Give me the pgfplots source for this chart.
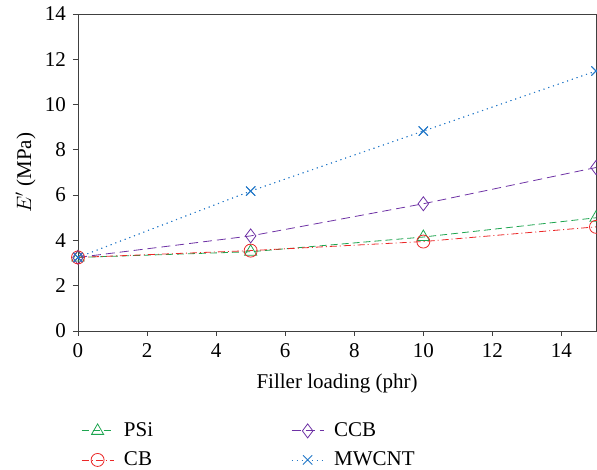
\documentclass[border=0pt]{standalone}
\usepackage{fontspec}
\setmainfont{Liberation Serif}
\usepackage{pgfplots}
\pgfplotsset{compat=1.18}

\definecolor{cpsi}{RGB}{30,165,80}
\definecolor{ccb}{RGB}{235,40,40}
\definecolor{cccb}{RGB}{110,50,165}
\definecolor{cmw}{RGB}{35,120,200}

\begin{document}
\fontsize{21}{25}\selectfont
\begin{tikzpicture}
\path[use as bounding box] (-78pt,-139pt) rectangle (519pt,331pt);
\begin{axis}[
    at={(0,0)}, anchor=south west,
    scale only axis,
    width=518pt, height=317pt,
    xmin=0, xmax=15, ymin=0, ymax=14,
    xtick={0,2,...,14}, ytick={0,2,...,14},
    tick align=outside, tick pos=left,
    major tick length=5pt,
    axis line style={black!75, line width=0.9pt},
    tick style={black!75, line width=0.8pt},
    /pgf/number format/assume math mode=true,
    ticklabel style={font=\fontsize{21}{25}\selectfont},
    xlabel={Filler loading (phr)},
    ylabel={$E'$ (MPa)},
    label style={font=\fontsize{21}{25}\selectfont},
    xlabel style={yshift=-2pt},
    ylabel style={yshift=-5pt},
    clip=false,
    legend columns=2,
    legend style={draw=none, at={(0,-0.275)}, anchor=north west,
        font=\fontsize{21}{25}\selectfont,
        /tikz/every even column/.append style={column sep=136pt},
        /tikz/every odd column/.append style={column sep=8pt},
        row sep=8pt},
    legend cell align=left,
    legend image code/.code={
        \draw[mark repeat=2,mark phase=2,#1] plot coordinates {(0pt,0pt) (16pt,0pt) (32pt,0pt)};},
]
\addplot[cpsi, line width=0.8pt, dash pattern=on 7pt off 4pt, mark=triangle, mark size=7pt, mark options={solid}]
    coordinates {(0,3.25) (5,3.5) (10,4.15) (15,5.0)};
\addlegendentry{PSi}
\addplot[cmw, line width=0.9pt, dash pattern=on 1pt off 4pt, mark=x, mark size=6.5pt, mark options={solid}, forget plot]
    coordinates {(0,3.25) (5,6.18) (10,8.83) (15,11.48)};
\addplot[cccb, line width=0.8pt, dash pattern=on 9pt off 5pt, mark=diamond, mark size=7pt, mark options={solid}]
    coordinates {(0,3.25) (5,4.2) (10,5.62) (15,7.22)};
\addlegendentry{CCB}
\addplot[ccb, line width=0.8pt, dash pattern=on 7pt off 3pt on 1pt off 3pt, mark=o, mark size=6.5pt, mark options={solid}]
    coordinates {(0,3.25) (5,3.55) (10,3.95) (15,4.6)};
\addlegendentry{CB}
\addplot[cmw, line width=0.9pt, dash pattern=on 1pt off 4pt, mark=x, mark size=6.5pt, mark options={solid}]
    coordinates {(0,3.25) (5,6.18) (10,8.83) (15,11.48)};
\addlegendentry{MWCNT}
\end{axis}
\end{tikzpicture}
\end{document}
